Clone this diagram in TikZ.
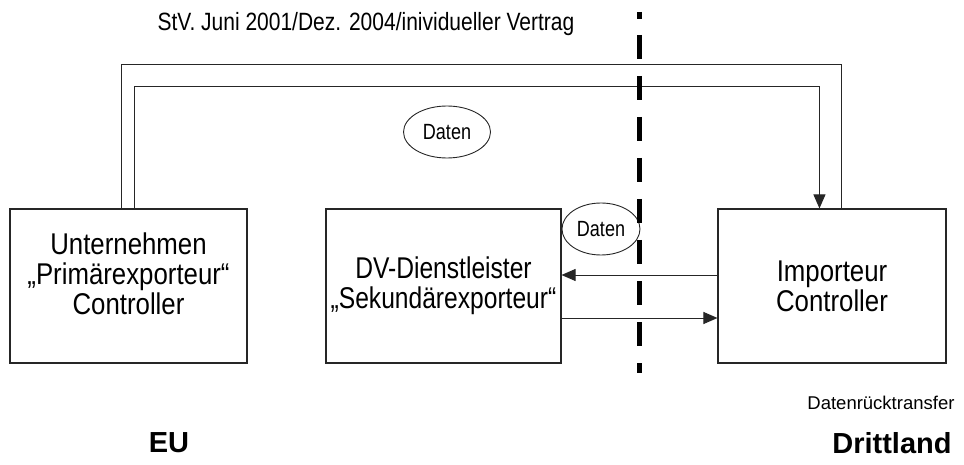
\documentclass[tikz,border=0pt]{standalone}
\usepackage{fontspec}
\setmainfont{Liberation Sans}
\newfontfamily\narrowfont[FakeStretch=0.82]{Liberation Sans}
\newfontfamily\midfont[FakeStretch=0.86]{Liberation Sans}
\newfontfamily\titlefont[FakeStretch=0.84]{Liberation Sans}
\usetikzlibrary{arrows.meta,shapes.geometric}
\begin{document}
\begin{tikzpicture}[x=1pt,y=-1pt,
  box/.style={draw=black!85,line width=1.1pt,minimum width=#1,minimum height=154pt,inner sep=0pt},
  boxtext/.style={align=center,inner sep=0pt,font=\narrowfont\fontsize{30}{30}\selectfont},
  sidetext/.style={boxtext,font=\midfont\fontsize{30}{30}\selectfont},
  blob/.style={draw=black!85,ellipse,line width=0.9pt,inner sep=0pt,font=\narrowfont\fontsize{22}{24}\selectfont},
  conn/.style={draw=black!85,line width=1pt},
  arr/.style={conn,-{Triangle[length=14pt,width=12pt]}},
  border/.style={line width=5pt,black}]
\useasboundingbox (0,0) rectangle (964,465);
\node[font=\titlefont\fontsize{25}{28}\selectfont] (title) at (366,24) {StV. Juni 2001/Dez. 2004/inividueller Vertrag};
\node[box=237pt] (L) at (128.5,286) {};
\node[box=235pt] (M) at (443.5,286) {};
\node[box=228pt] (R) at (832,286) {};
\node[sidetext] (Lt) at ([yshift=12pt]L.center) {Unternehmen\\„Primärexporteur“\\Controller};
\node[boxtext] (Mt) at (M.center) {DV-Dienstleister\\„Sekundärexporteur“};
\node[sidetext] (Rt) at (R.center) {Importeur\\Controller};
\node[blob,minimum width=87pt,minimum height=52pt] (D1) at (447,132) {Daten};
\node[blob,minimum width=78pt,minimum height=52pt] (D2) at (601,229) {Daten};
\draw[conn] ([xshift=112pt]L.north west) -- ++(0,-144) -| ([xshift=124pt]R.north west);
\draw[arr] ([xshift=125pt]L.north west) -- ++(0,-122) -| ([xshift=102pt]R.north west);
\draw[arr] ([yshift=11pt]R.west) -- ([yshift=11pt]M.east);
\draw[arr] ([yshift=-32pt]M.east) -- ([yshift=-32pt]R.west);
\coordinate (b0) at (639,12);
\coordinate (b1) at (639,19);
\coordinate (b2) at (639,35);
\coordinate (b3) at (639,373);
\draw[border] (b0) -- (b1);
\draw[border,dash pattern=on 24pt off 17pt] (b2) -- (b3);
\node[anchor=east,font=\fontsize{18.5}{20}\selectfont] (back) at (958,403) {Datenrücktransfer};
\node[font=\bfseries\fontsize{29}{32}\selectfont] (eu) at (169,443) {EU};
\node[font=\bfseries\fontsize{29}{32}\selectfont] (dl) at (892,443) {Drittland};
\end{tikzpicture}
\end{document}
